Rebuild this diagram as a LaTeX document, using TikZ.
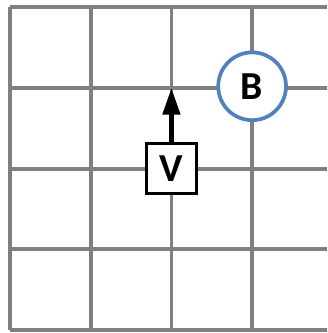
\documentclass[tikz,border=0pt]{standalone}
\usepackage{fontspec}
\setsansfont{Carlito}
\usepackage{xcolor}
\usetikzlibrary{arrows.meta, positioning}
\definecolor{gridgray}{RGB}{128,128,128}
\definecolor{ballblue}{RGB}{79,129,189}

\begin{document}
\begin{tikzpicture}[
  %--- style definitions ---
  gridline/.style = {draw=gridgray, line width=1.35pt},
  vehicle/.style  = {rectangle, draw=black, fill=white, line width=1.3pt,
                     minimum size=0.62cm, inner sep=0pt,
                     font=\sffamily\bfseries\fontsize{14}{14}\selectfont},
  ball/.style     = {circle, draw=ballblue, fill=white, line width=1.3pt,
                     minimum size=0.84cm, inner sep=0pt,
                     font=\sffamily\bfseries\fontsize{14}{14}\selectfont},
  arrow/.style    = {-{Triangle[length=0.33cm,width=0.21cm]}, line width=1.6pt, black},
]

%% ── BOUNDING BOX ───────────────────────────────────────────────────────────
\useasboundingbox (-0.124,-0.037) rectangle (3.928,4.089);
\clip (-0.124,-0.037) rectangle (3.928,4.089);

%% ── GRID ───────────────────────────────────────────────────────────────────
\foreach \y in {0,...,4}
  \draw[gridline] (0,\y) -- (4.2,\y);
\foreach \x in {0,...,3}
  \draw[gridline] (\x,0) -- (\x,4);

%% ── OBJECTS ────────────────────────────────────────────────────────────────
\coordinate (goal) at (2,3);
\node[vehicle] (veh) at (2,2) {V};
\node[ball]    (b)   at (3,3.02) {B};

%% ── ARROW ──────────────────────────────────────────────────────────────────
\draw[arrow] (veh.north) -- (goal);

\end{tikzpicture}
\end{document}
